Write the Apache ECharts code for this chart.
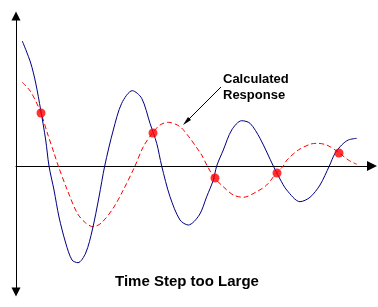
<!DOCTYPE html>
<html>
<head>
<meta charset="utf-8">
<script src="https://cdn.jsdelivr.net/npm/echarts@6/dist/echarts.min.js"></script>
<style>
html,body{margin:0;padding:0;background:#fff;}
#chart{width:378px;height:307px;}
</style>
</head>
<body>
<div id="chart"></div>
<script>
// Exact (true) response: time values and amplitudes
const exactTime = [6.3,14.7,19.7,24.7,29.7,33,38,43,49.7,56,62,69.7,76.3,83,88.7,97.3,105.7,116.3,125.7,134,140.7,145.7,154,164,172.3,183.3,190.7,197.3,200.7,207.3,215.7,225.7,234,244,257.3,264,270.7,284,294,304,313.3,319,325.7,332.3,340.7];
const exactValue = [125,103,83,56,26,0,-24,-51,-77,-94,-96.7,-87,-64,-31,0,36,62.7,75.3,67.7,42.7,22.7,0,-30.7,-54,-59,-49,-30.7,-14,0,16,36,45.3,42.7,27.7,0,-13,-24,-35.7,-31.3,-19,0,12.7,21,26,27.7];

// Calculated response (time step too large)
const calcTime = [6.3,14.7,24.7,31.3,38,42.3,51.3,61.3,69.7,77,85.3,97.3,107.3,119,127.3,136.7,144,152.3,164,174,182.3,185.7,191.3,198.3,207.3,217.3,227.3,240.7,250.7,260.7,267.3,271,282.3,294,300.7,310.7,323,332.3,340.7];
const calcValue = [83.7,74.3,53.7,33,13,0,-24,-47.3,-57,-60.7,-57,-42,-24,0,19.3,33.3,41,43.7,39.3,27.7,16,11,0,-11.7,-20.7,-29,-31.3,-25.7,-19,-6.7,0,6,16,21.7,22.7,21,13.3,6,1.7];

// Calculation time-step points
const stepTime = [25,137,199,261,323];
const stepValue = [53,33,-12,-7,13];

const labels = {
  annotation: ['Calculated', 'Response'],
  title: 'Time Step too Large'
};

function pairs(xs, ys){ return xs.map((x,i)=>[x, ys[i]]); }

const chart = echarts.init(document.getElementById('chart'));
const font = '"Liberation Sans", Arial, sans-serif';
chart.setOption({
  animation: false,
  backgroundColor: '#ffffff',
  grid: {left: 16, right: 6, top: 16, bottom: 15},
  xAxis: {
    type: 'value', min: 0, max: 356,
    axisLine: {show: true, onZero: true, symbol: ['none','triangle'], symbolSize: [10,10],
      lineStyle: {color: '#000', width: 1}},
    axisTick: {show: false}, axisLabel: {show: false}, splitLine: {show: false}
  },
  yAxis: {
    type: 'value', min: -126, max: 150,
    axisLine: {show: true, onZero: true, symbol: ['triangle','triangle'], symbolSize: [9,9],
      lineStyle: {color: '#000', width: 1}},
    axisTick: {show: false}, axisLabel: {show: false}, splitLine: {show: false}
  },
  series: [
    {
      type: 'line', data: pairs(calcTime, calcValue), smooth: 0.3, showSymbol: false,
      lineStyle: {color: '#ff0000', width: 1, type: [5,3]}, z: 2
    },
    {
      type: 'line', data: pairs(exactTime, exactValue), smooth: 0.3, showSymbol: false,
      lineStyle: {color: '#000080', width: 1}, z: 3
    },
    {
      type: 'scatter', data: pairs(stepTime, stepValue), symbolSize: 9,
      itemStyle: {color: '#ff0000'}, z: 4
    }
  ],
  graphic: [
    {type: 'text', left: 223, top: 73, style: {text: labels.annotation[0], font: 'bold 13px ' + font, fill: '#000'}},
    {type: 'text', left: 223, top: 89, style: {text: labels.annotation[1], font: 'bold 13px ' + font, fill: '#000'}},
    {type: 'line', shape: {x1: 221, y1: 87, x2: 187, y2: 121}, style: {stroke: '#000', lineWidth: 1}},
    {type: 'polygon', shape: {points: [[183,125],[191,120],[188,117]]}, style: {fill: '#000'}},
    {type: 'text', x: 187, y: 282, style: {text: labels.title, font: 'bold 15px ' + font, fill: '#000', align: 'center', verticalAlign: 'middle'}}
  ]
});
</script>
</body>
</html>
